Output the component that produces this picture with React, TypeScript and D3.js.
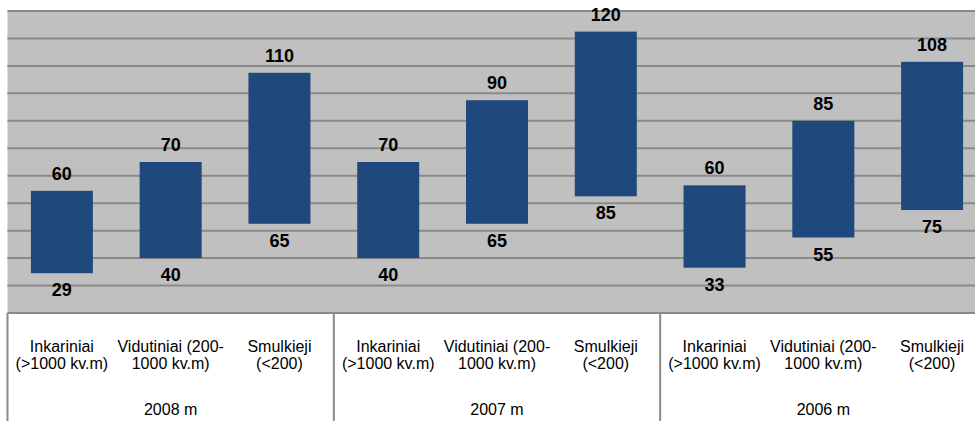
import React from "react";
import * as d3 from "d3";

const groups = ["2008 m", "2007 m", "2006 m"];
const categoryLines = [
  ["Inkariniai", "(>1000 kv.m)"],
  ["Vidutiniai (200-", "1000 kv.m)"],
  ["Smulkieji", "(<200)"],
];
const baseValues = [29, 40, 65, 40, 65, 85, 33, 55, 75];
const spanValues = [60, 70, 110, 70, 90, 120, 60, 85, 108];
const yTicks = [0, 20, 40, 60, 80, 100, 120, 140, 160, 180, 200, 220];

const W = 975;
const H = 421;
const left = 7.5;
const right = 986.5;
const top = 11;
const bottom = 313;

export default function App() {
  const idx = baseValues.map((_, i) => i);
  const x = d3.scaleBand<number>().domain(idx).range([left, right]).paddingInner(0.43).paddingOuter(0.215);
  const y = d3.scaleLinear().domain([0, 220]).range([bottom, top]);
  const groupScale = d3.scaleBand<string>().domain(groups).range([left, right]);
  const font = "'Liberation Sans', Arial, Helvetica, sans-serif";

  return (
    <svg width={W} height={H} style={{ position: "absolute", left: 0, top: 0, background: "#fff" }}>
      <rect x={left} y={top} width={right - left} height={bottom - top} fill="#c0c0c0" />
      {yTicks.map((t) => (
        <line key={t} x1={left} x2={right} y1={y(t)} y2={y(t)} stroke="#8a8a8a" strokeWidth={2} />
      ))}
      {idx.map((i) => {
        const y0 = y(baseValues[i]);
        const y1 = y(baseValues[i] + spanValues[i]);
        const cx = (x(i) as number) + x.bandwidth() / 2;
        return (
          <g key={i}>
            <rect x={x(i)} y={y1} width={x.bandwidth()} height={y0 - y1} fill="#1f497d" />
            <text x={cx} y={y1 - 11} textAnchor="middle" fontFamily={font} fontWeight="bold" fontSize={18} fill="#000">
              {spanValues[i]}
            </text>
            <text x={cx} y={y0 + 23} textAnchor="middle" fontFamily={font} fontWeight="bold" fontSize={18} fill="#000">
              {baseValues[i]}
            </text>
            {categoryLines[i % 3].map((ln, k) => (
              <text key={k} x={cx} y={352 + k * 17} textAnchor="middle" fontFamily={font} fontSize={16} fill="#000">
                {ln}
              </text>
            ))}
          </g>
        );
      })}
      {groups.map((g) => {
        const gx = groupScale(g) as number;
        return (
          <g key={g}>
            <line x1={gx} x2={gx} y1={bottom} y2={H} stroke="#8a8a8a" strokeWidth={2} />
            <text x={gx + groupScale.bandwidth() / 2} y={415} textAnchor="middle" fontFamily={font} fontSize={16} fill="#000">
              {g}
            </text>
          </g>
        );
      })}
      <line x1={right} x2={right} y1={bottom} y2={H} stroke="#8a8a8a" strokeWidth={2} />
    </svg>
  );
}
